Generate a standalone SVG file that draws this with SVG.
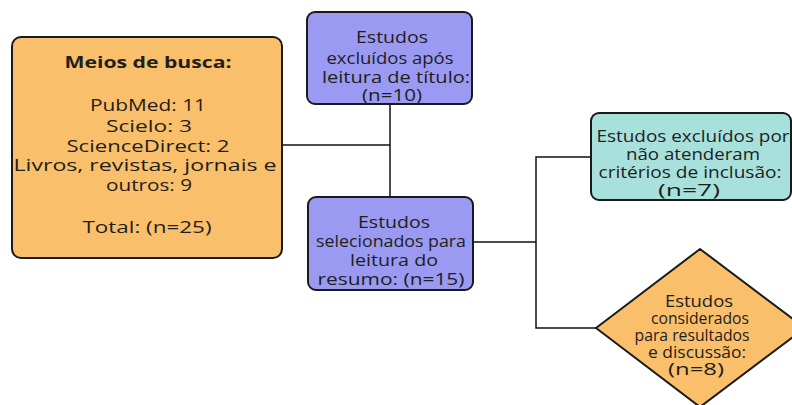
<svg xmlns="http://www.w3.org/2000/svg" width="792" height="405" viewBox="0 0 792 405">
<style>
.t{font-family:"Open Sans","DejaVu Sans",sans-serif;font-size:16px;fill:#1e1e1e;text-anchor:middle}
.s{font-size:16px}
.b{font-weight:bold}
.ln{stroke:#111;stroke-width:1.5;fill:none}
.box{stroke:#1a1a1a;stroke-width:2}
</style>
<rect width="792" height="405" fill="#fff"/>
<g id="connectors">
<polyline class="ln" points="282,145 390,145"/>
<polyline class="ln" points="390,104 390,197"/>
<polyline class="ln" points="473,242 536,242"/>
<polyline class="ln" points="591,157 536,157 536,328 596,328"/>
</g>
<g id="meios">
<rect class="box" x="12" y="37" width="270" height="221" rx="9" fill="#F9BF6B"/>
<text class="t b" x="148" y="68" textLength="167" lengthAdjust="spacingAndGlyphs">Meios de busca:</text>
<text class="t" x="148" y="111" textLength="116" lengthAdjust="spacingAndGlyphs">PubMed: 11</text>
<text class="t" x="149" y="132" textLength="86" lengthAdjust="spacingAndGlyphs">Scielo: 3</text>
<text class="t" x="148" y="152" textLength="163" lengthAdjust="spacingAndGlyphs">ScienceDirect: 2</text>
<text class="t" x="145" y="171" textLength="263" lengthAdjust="spacingAndGlyphs">Livros, revistas, jornais e</text>
<text class="t" x="149" y="191" textLength="86" lengthAdjust="spacingAndGlyphs">outros: 9</text>
<text class="t" x="147" y="233" textLength="129" lengthAdjust="spacingAndGlyphs">Total: (n=25)</text>
</g>
<g id="excluidos-titulo">
<rect class="box" x="307" y="12" width="165" height="92" rx="8" fill="#9A9AF2"/>
<text class="t" x="392" y="43" textLength="72" lengthAdjust="spacingAndGlyphs">Estudos</text>
<text class="t" x="390" y="64" textLength="127" lengthAdjust="spacingAndGlyphs">excluídos após</text>
<text class="t" x="396" y="83" textLength="148" lengthAdjust="spacingAndGlyphs">leitura de título:</text>
<text class="t" x="392" y="101" textLength="60" lengthAdjust="spacingAndGlyphs">(n=10)</text>
</g>
<g id="selecionados">
<rect class="box" x="308" y="197" width="165" height="93" rx="8" fill="#9A9AF2"/>
<text class="t" x="394" y="228" textLength="72" lengthAdjust="spacingAndGlyphs">Estudos</text>
<text class="t" x="391" y="247" textLength="150" lengthAdjust="spacingAndGlyphs">selecionados para</text>
<text class="t" x="394" y="266" textLength="88" lengthAdjust="spacingAndGlyphs">leitura do</text>
<text class="t" x="391" y="285" textLength="147" lengthAdjust="spacingAndGlyphs">resumo: (n=15)</text>
</g>
<g id="excluidos-criterios">
<rect class="box" x="591" y="113" width="200" height="87" rx="8" fill="#A8E0DB"/>
<text class="t" x="693" y="142" textLength="193" lengthAdjust="spacingAndGlyphs">Estudos excluídos por</text>
<text class="t" x="693" y="160" textLength="134" lengthAdjust="spacingAndGlyphs">não atenderam</text>
<text class="t" x="690" y="178" textLength="183" lengthAdjust="spacingAndGlyphs">critérios de inclusão:</text>
<text class="t" x="689" y="196" textLength="62" lengthAdjust="spacingAndGlyphs">(n=7)</text>
</g>
<g id="considerados">
<path class="box" d="M700,249 L805,328 L700,407 L596,328 Z" stroke-linejoin="round" fill="#F9BF6B"/>
<text class="t s" x="699" y="307" textLength="68" lengthAdjust="spacingAndGlyphs">Estudos</text>
<text class="t s" x="700" y="324" textLength="98" lengthAdjust="spacingAndGlyphs">considerados</text>
<text class="t s" x="692" y="341" textLength="115" lengthAdjust="spacingAndGlyphs">para resultados</text>
<text class="t s" x="697" y="358" textLength="98" lengthAdjust="spacingAndGlyphs">e discussão:</text>
<text class="t s" x="696" y="375" textLength="56" lengthAdjust="spacingAndGlyphs">(n=8)</text>
</g>
</svg>
